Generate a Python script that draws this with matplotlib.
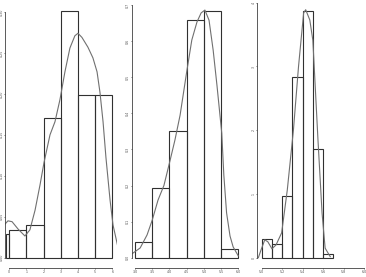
import numpy as np
import matplotlib
matplotlib.use('Agg')
import matplotlib.pyplot as plt

W, H = 366, 277

# panel 1: histogram (density) + kde
p1_edges = [-0.2, 0, 1, 2, 3, 4, 5, 6]
p1_heights = [0.0286, 0.0338, 0.0396, 0.170, 0.301, 0.1987, 0.1987]
p1_kde_x = [-0.25, -0.08, 0.16, 0.51, 0.91, 1.2, 1.5, 1.79, 2.02, 2.37, 2.66, 2.95,
            3.24, 3.53, 3.82, 4.0, 4.23, 4.58, 4.87, 5.11, 5.28, 5.46, 5.63, 5.87,
            6.04, 6.3]
p1_kde_y = [0.041, 0.045, 0.044, 0.035, 0.0265, 0.034, 0.058, 0.089, 0.116, 0.150,
            0.166, 0.193, 0.227, 0.256, 0.271, 0.274, 0.269, 0.257, 0.244, 0.227,
            0.202, 0.166, 0.122, 0.070, 0.040, 0.0155]
p1_xticks = [0, 1, 2, 3, 4, 5, 6]
p1_xlabels = ['0', '1', '2', '3', '4', '5', '6']
p1_yticks = [0.0, 0.05, 0.10, 0.15, 0.20, 0.25, 0.30]
p1_ylabels = ['0.00', '0.05', '0.10', '0.15', '0.20', '0.25', '0.30']

# panel 2
p2_edges = [3.0, 3.5, 4.0, 4.5, 5.0, 5.5, 6.0]
p2_heights = [0.044, 0.192, 0.352, 0.658, 0.683, 0.023]
p2_kde_x = [2.90, 3.15, 3.35, 3.50, 3.67, 3.84, 4.02, 4.16, 4.31, 4.50, 4.65, 4.80,
            4.92, 5.03, 5.15, 5.27, 5.38, 5.52, 5.58, 5.66, 5.76, 5.85, 6.0]
p2_kde_y = [0.010, 0.027, 0.063, 0.104, 0.16, 0.20, 0.27, 0.326, 0.395, 0.514, 0.603,
            0.653, 0.678, 0.686, 0.658, 0.575, 0.478, 0.345, 0.229, 0.124, 0.060,
            0.030, 0.005]
p2_xticks = [3.0, 3.5, 4.0, 4.5, 5.0, 5.5, 6.0]
p2_xlabels = ['3.0', '3.5', '4.0', '4.5', '5.0', '5.5', '6.0']
p2_yticks = [0.0, 0.1, 0.2, 0.3, 0.4, 0.5, 0.6, 0.7]
p2_ylabels = ['0.0', '0.1', '0.2', '0.3', '0.4', '0.5', '0.6', '0.7']

# panel 3
p3_edges = [5.0, 5.1, 5.2, 5.3, 5.4, 5.5, 5.6, 5.7]
p3_heights = [0.289, 0.220, 0.963, 2.84, 3.87, 1.705, 0.053]
p3_kde_x = [4.967, 4.993, 5.03, 5.06, 5.10, 5.14, 5.195, 5.25, 5.31, 5.36, 5.41,
            5.43, 5.47, 5.50, 5.55, 5.59, 5.62, 5.67]
p3_kde_y = [0.0, 0.12, 0.28, 0.25, 0.14, 0.20, 0.39, 1.06, 2.0, 3.0, 3.84, 3.89,
            3.73, 3.41, 1.85, 0.70, 0.15, 0.016]
p3_xticks = [5.0, 5.2, 5.4, 5.6, 5.8, 6.0]
p3_xlabels = ['5.0', '5.2', '5.4', '5.6', '5.8', '6.0']
p3_yticks = [0, 1, 2, 3, 4]
p3_ylabels = ['0', '1', '2', '3', '4']

fig = plt.figure(figsize=(W / 100, H / 100), dpi=100)
fig.patch.set_facecolor('white')

AXIS_PY = 268   # pixel row of the x axis line


def panel(x0px, xval0, xscale, y0px, yscale, xlim, ytop):
    left = x0px + (xlim[0] - xval0) * xscale
    right = x0px + (xlim[1] - xval0) * xscale
    top = y0px - ytop * yscale
    bottom = AXIS_PY
    ylow = (y0px - bottom) / yscale
    ax = fig.add_axes([left / W, 1 - bottom / H, (right - left) / W, (bottom - top) / H])
    ax.set_xlim(*xlim)
    ax.set_ylim(ylow, ytop)
    return ax


def draw(ax, edges, heights, kx, ky, xt, xl, yt, yl):
    lefts = edges[:-1]
    widths = np.diff(edges)
    ax.bar(lefts, heights, width=widths, align='edge', facecolor='none',
           edgecolor='#303030', linewidth=0.8, clip_on=False)
    ax.plot(kx, ky, color='#707070', linewidth=0.8, clip_on=True)
    for s in ['top', 'right']:
        ax.spines[s].set_visible(False)
    ax.spines['left'].set_bounds(yt[0], yt[-1])
    ax.spines['bottom'].set_bounds(xt[0], xt[-1])
    for s in ['left', 'bottom']:
        ax.spines[s].set_linewidth(0.6)
        ax.spines[s].set_color('#404040')
    ax.set_xticks(xt)
    ax.set_xticklabels(xl)
    ax.set_yticks(yt)
    ax.set_yticklabels(yl, rotation=90, va='center')
    ax.tick_params(length=1.0, width=0.5, labelsize=2.3, pad=0.3,
                   colors='#404040', labelcolor='#505050')
    ax.patch.set_alpha(0)


ax1 = panel(9.3, 0, 17.17, 257.7, 819, (-0.24, 6.3), 0.3147)
draw(ax1, p1_edges, p1_heights, p1_kde_x, p1_kde_y, p1_xticks, p1_xlabels,
     p1_yticks, p1_ylabels)

ax2 = panel(135, 3.0, 34.43, 257.7, 361, (2.904, 6.06), 0.714)
draw(ax2, p2_edges, p2_heights, p2_kde_x, p2_kde_y, p2_xticks, p2_xlabels,
     p2_yticks, p2_ylabels)

ax3 = panel(261.7, 5.0, 102.3, 257.7, 63.75, (4.957, 6.04), 4.04)
draw(ax3, p3_edges, p3_heights, p3_kde_x, p3_kde_y, p3_xticks, p3_xlabels,
     p3_yticks, p3_ylabels)

fig.savefig('out.png', dpi=100)
